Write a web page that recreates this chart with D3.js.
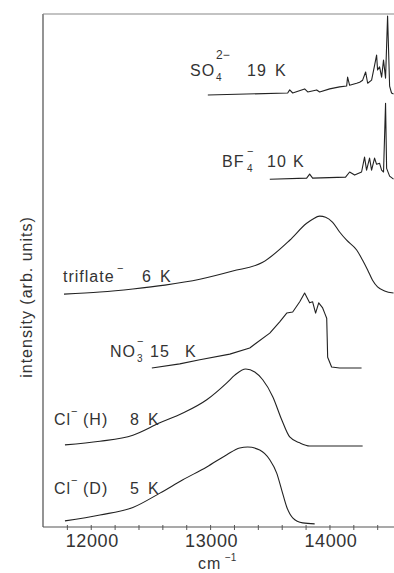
<!DOCTYPE html>
<html>
<head>
<meta charset="utf-8">
<script src="https://cdn.jsdelivr.net/npm/d3@7/dist/d3.min.js"></script>
<style>
  html, body { margin: 0; padding: 0; background: #fff; }
  svg text { font-family: "Liberation Sans", Arial, sans-serif; fill: #333; }
</style>
</head>
<body>
<div id="chart"></div>
<script>
// values: [wavenumber (cm^-1), intensity above the trace's own baseline]
const clD = [[11784,0.6],[12077,1.75],[12353,3.2],[12579,6.0],[12772,8.6],[12972,11.1],[13140,13.5],
  [13248,14.8],[13315,15.0],[13416,14.4],[13500,12.5],[13558,9.9],[13600,6.6],[13642,3.3],
  [13692,1.2],[13776,0.2],[13876,0]];
const clH = [[11784,0.2],[12077,0.9],[12353,2.1],[12579,4.5],[12772,6.4],[12972,9.0],[13140,12.3],
  [13207,13.8],[13299,15.0],[13374,14.4],[13441,12.9],[13525,9.6],[13600,5.1],[13667,1.75],
  [13751,0.6],[13834,0],[14278,0]];
const no3 = [[12512,0],[12746,0.8],[12914,1.6],[13165,2.7],[13332,3.9],[13500,6.8],[13583,9.0],
  [13642,10.7],[13692,10.9],[13751,12.9],[13792,14.6],[13834,12.7],[13859,12.9],[13884,10.7],
  [13910,12.7],[13943,11.7],[13960,10.7],[13977,9.7],[13981,6.0],[13985,2.1],[14018,0.2],
  [14085,0],[14269,0]];
const triflate = [[11776,0],[12077,0.4],[12353,1.0],[12621,1.75],[12914,2.9],[13190,4.5],[13441,6.2],
  [13667,10.5],[13809,13.8],[13859,14.6],[13918,15.2],[13968,15.0],[14027,14.0],[14085,12.1],
  [14144,10.5],[14228,8.6],[14278,6.6],[14320,4.7],[14361,2.7],[14403,1.4],[14462,0.6],[14537,0.2]];
const bf4 = [[13500,0],[13809,0.2],[13834,1.0],[13859,0.2],[14135,0.4],[14169,1.4],[14211,0.8],
  [14269,1.4],[14294,4.3],[14311,1.75],[14336,4.1],[14353,1.75],[14378,4.1],[14395,2.9],
  [14420,3.1],[14437,1.75],[14453,1.4],[14470,14.8],[14479,2.1],[14504,0.6],[14537,0]];
const so4 = [[12981,0],[13650,0.4],[13667,1.0],[13692,0.4],[13792,1.2],[13818,0.6],[13893,1.0],
  [13918,0.6],[14002,1.2],[14085,1.6],[14144,1.75],[14152,3.5],[14169,1.9],[14228,2.3],
  [14253,2.5],[14278,2.9],[14303,4.5],[14320,2.3],[14353,2.9],[14378,5.8],[14395,7.8],
  [14403,4.9],[14420,5.5],[14437,3.5],[14453,6.8],[14470,3.3],[14487,15.4],[14504,1.75],
  [14520,0.4],[14537,0.2]];

const traces = [clD, clH, no3, triflate, bf4, so4];
const baselines = [0.6, 15.8, 31.0, 45.4, 67.8, 84.2];
const smooth = [true, true, false, true, false, false];

const xTicks = [11800,12000,12200,12400,12600,12800,13000,13200,13400,13600,13800,14000,14200,14400];
const xLabels = [12000, 13000, 14000];

const width = 394, height = 573;
const svg = d3.select('#chart').append('svg')
  .attr('width', width).attr('height', height);

const x = d3.scaleLinear().domain([11600, 14550]).range([43, 395.1]);
const y = d3.scaleLinear().domain([0, 100]).range([527, 14]);

// frame
svg.append('line').attr('x1', 43).attr('x2', 43).attr('y1', 14).attr('y2', 527)
  .attr('stroke', '#666').attr('stroke-width', 1.4);
svg.append('line').attr('x1', 43).attr('x2', 396).attr('y1', 14).attr('y2', 14)
  .attr('stroke', '#888').attr('stroke-width', 1.2);

// x axis
const xAxis = svg.append('g').attr('transform', 'translate(0,527)')
  .call(d3.axisBottom(x).tickValues(xTicks)
    .tickFormat(d => xLabels.includes(d) ? d : '')
    .tickSizeOuter(0));
xAxis.select('.domain').attr('stroke', '#555').attr('stroke-width', 1.2)
  .attr('d', 'M43,0H396');
xAxis.selectAll('.tick line').attr('y1', -2).attr('y2', 3).attr('stroke', '#555');
xAxis.selectAll('.tick text')
  .attr('dx', 1).attr('y', 7)
  .style('font-size', '18px').style('letter-spacing', '0.6px').style('fill', '#333');

// traces
traces.forEach((data, i) => {
  const line = d3.line()
    .x(d => x(d[0]))
    .y(d => y(d[1] + baselines[i]))
    .curve(smooth[i] ? d3.curveMonotoneX : d3.curveLinear);
  svg.append('path').datum(data)
    .attr('d', line)
    .attr('fill', 'none')
    .attr('stroke', '#222')
    .attr('stroke-width', 1.1)
    .attr('stroke-linejoin', 'round');
});

// trace labels: [text, x, baseline y, font size]
const labels = [
  [['SO',190,76,16],['4',216,81,10],['2\u2212',216,59,12],['19',247,76,16],['K',275,76,16]],
  [['BF',222,167,16],['4',247,172,10],['\u2212',247,155,11],['10',267,167,16],['K',293,167,16]],
  [['triflate',63,282,16],['\u2212',117,272,11],['6',142,282,16],['K',160,282,16]],
  [['NO',110,357,16],['3',137,362,10],['\u2212',137,345,11],['15',150,357,16],['K',185,357,16]],
  [['Cl',54,425,16],['\u2212',71,415,11],['(H)',83,425,16],['8',130,425,16],['K',148,425,16]],
  [['Cl',54,494,16],['\u2212',71,484,11],['(D)',83,494,16],['5',130,494,16],['K',148,494,16]]
];
labels.forEach(parts => {
  parts.forEach(p => {
    svg.append('text').attr('x', p[1]).attr('y', p[2])
      .style('font-size', p[3] + 'px')
      .style('letter-spacing', p[3] > 13 ? '1px' : '0px')
      .text(p[0]);
  });
});

// axis titles
svg.append('text')
  .attr('transform', 'translate(32,297) rotate(-90)')
  .attr('text-anchor', 'middle')
  .style('font-size', '16px').style('letter-spacing', '1px')
  .text('intensity (arb. units)');
svg.append('text').attr('x', 198).attr('y', 569)
  .style('font-size', '16px').style('letter-spacing', '1px').text('cm');
svg.append('text').attr('x', 225).attr('y', 561)
  .style('font-size', '10px').text('\u22121');
</script>
</body>
</html>
